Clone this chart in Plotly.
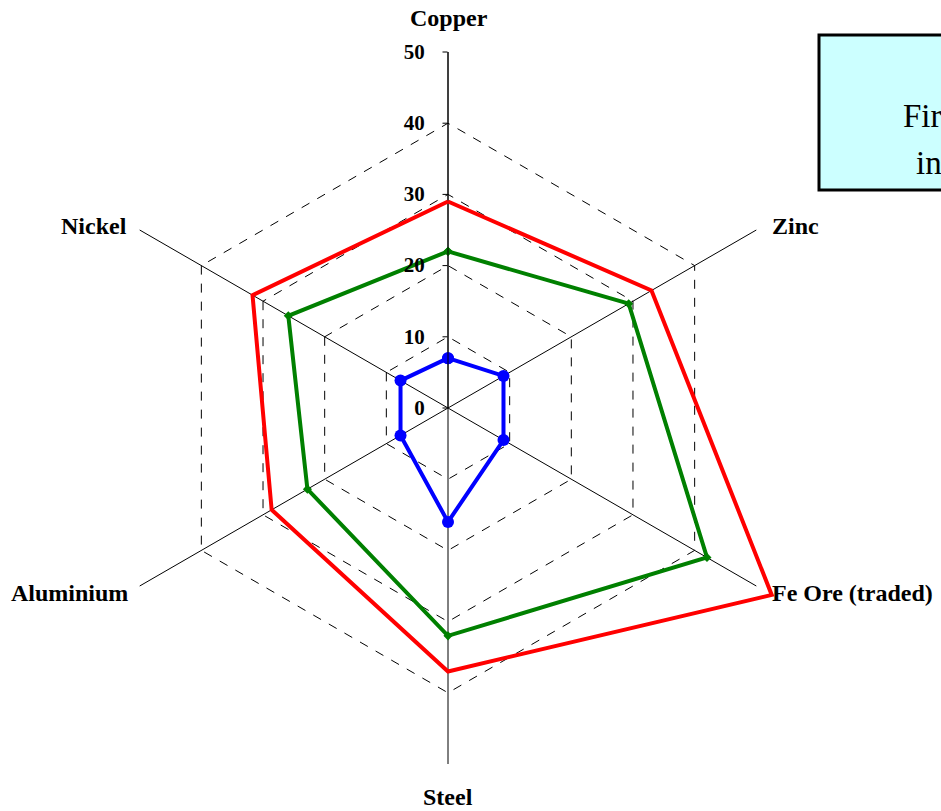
import plotly.graph_objects as go

categories = ["Copper", "Zinc", "Fe Ore (traded)", "Steel", "Aluminium", "Nickel"]
red_values = [29, 33, 52.5, 37, 28.6, 31.7]
green_values = [22, 29.3, 42, 32, 22.8, 25.9]
blue_values = [7, 9, 9, 16, 7.7, 7.7]
radial_ticks = [0, 10, 20, 30, 40, 50]

def closed(v):
    return list(v) + [v[0]]

theta = closed(categories)

W, H = 941, 811
cx, cy, R = 448, 408, 356
RMAX, RMAX2 = 50, 55
R2 = R * RMAX2 / RMAX

def dom(radius):
    return dict(x=[(cx - radius) / W, (cx + radius) / W],
                y=[(H - cy - radius) / H, (H - cy + radius) / H])

fig = go.Figure()
fig.add_trace(go.Scatterpolar(r=closed(green_values), theta=theta, mode="lines+markers",
                              line=dict(color="#008000", width=4),
                              marker=dict(symbol="diamond", size=7, color="#008000"),
                              subplot="polar", hoverinfo="skip"))
fig.add_trace(go.Scatterpolar(r=closed(blue_values), theta=theta, mode="lines+markers",
                              line=dict(color="#0000ff", width=4),
                              marker=dict(symbol="circle", size=12, color="#0000ff"),
                              subplot="polar", hoverinfo="skip"))
# red series exceeds 50 at Fe Ore, so it sits on an overlay polar with the same scale
fig.add_trace(go.Scatterpolar(r=closed(red_values), theta=theta, mode="lines",
                              line=dict(color="#ff0000", width=4),
                              subplot="polar2", hoverinfo="skip"))

fig.update_layout(
    width=W, height=H,
    margin=dict(l=0, r=0, t=0, b=0),
    paper_bgcolor="white",
    showlegend=False,
    font=dict(family="Liberation Serif", color="black"),
    polar=dict(
        domain=dom(R),
        bgcolor="white",
        gridshape="linear",
        angularaxis=dict(
            direction="clockwise", rotation=90,
            showline=False, showgrid=True,
            gridcolor="black", gridwidth=1,
            ticks="", showticklabels=False,
        ),
        radialaxis=dict(
            range=[0, RMAX], angle=90, tickangle=90,
            tickvals=radial_ticks,
            ticktext=[f"{t}\u00a0\u00a0" for t in radial_ticks],
            showline=True, linecolor="black", linewidth=1,
            ticks="outside", ticklen=5, tickcolor="black",
            showgrid=True, gridcolor="black", gridwidth=1, griddash="dash",
            tickfont=dict(family="Liberation Serif", size=21, color="black", weight="bold"),
            side="counterclockwise",
        ),
    ),
    polar2=dict(
        domain=dom(R2),
        bgcolor="rgba(0,0,0,0)",
        gridshape="linear",
        angularaxis=dict(direction="clockwise", rotation=90, showline=False,
                         showgrid=False, ticks="", showticklabels=False),
        radialaxis=dict(range=[0, RMAX2], visible=False, showgrid=False),
    ),
)

# category labels
label_font = dict(family="Liberation Serif", size=24, color="black", weight="bold")
label_pos = {
    "Copper": (449, 18, "center"),
    "Zinc": (770, 226, "left"),
    "Fe Ore (traded)": (770, 593, "left"),
    "Steel": (448, 797, "center"),
    "Aluminium": (130, 593, "right"),
    "Nickel": (129, 226, "right"),
}
for name in categories:
    x, y, anc = label_pos[name]
    fig.add_annotation(xref="paper", yref="paper", x=x / W, y=1 - y / H,
                       xanchor=anc, yanchor="middle", showarrow=False,
                       text=name, font=label_font)

# text box at top right (partially outside the visible page)
fig.add_shape(type="rect", xref="paper", yref="paper",
              x0=819 / W, x1=1100 / W, y0=1 - 190 / H, y1=1 - 35 / H,
              fillcolor="#ccffff", line=dict(color="black", width=3))
box_font = dict(family="Liberation Serif", size=33, color="black")
fig.add_annotation(xref="paper", yref="paper", x=901 / W, y=1 - 116 / H,
                   xanchor="left", yanchor="middle", showarrow=False,
                   text="First half", font=box_font)
fig.add_annotation(xref="paper", yref="paper", x=914 / W, y=1 - 163 / H,
                   xanchor="left", yanchor="middle", showarrow=False,
                   text="increase", font=box_font)

fig.write_html(
    "out.html",
    config={"displayModeBar": False},
    post_script="document.body.style.margin='0';"
                "document.documentElement.style.overflow='hidden';"
                "document.body.style.overflow='hidden';",
)
